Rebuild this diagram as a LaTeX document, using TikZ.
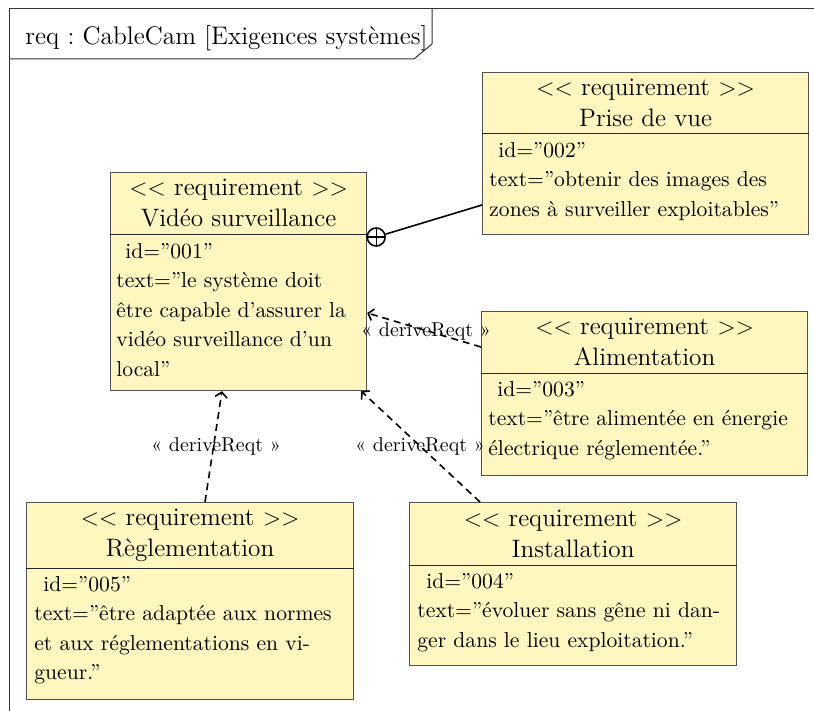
\documentclass[tikz,border=0pt]{standalone}
\usetikzlibrary{arrows.meta,calc}
\definecolor{reqfill}{RGB}{255,246,192}
\definecolor{reqline}{RGB}{80,80,80}
\frenchspacing
\begin{document}
\begin{tikzpicture}[x=0.5pt,y=-0.5pt,
  reqbox/.style={draw=reqline, fill=reqfill, line width=0.6pt, anchor=north west, inner sep=0pt},
  hdr/.style={align=center, inner sep=0pt, font=\fontsize{12.6}{15.5}\selectfont},
  body/.style={align=left, inner sep=0pt, anchor=north west, font=\fontsize{10.8}{14.75}\selectfont},
  lbl/.style={inner sep=0pt, font=\fontsize{10}{12}\selectfont},
  divider/.style={draw=black!85, line width=0.5pt},
  derive/.style={draw, line width=0.8pt, dash pattern=on 3.5pt off 2.5pt, -{Straight Barb[length=2.5pt,width=6pt]}},
  frameline/.style={draw=black!80, line width=0.5pt}
]
\useasboundingbox (0,0) rectangle (814,711);

% frame
\draw[frameline] (814,9) -- (9,9) -- (9,711);
\draw[frameline] (9,59) -- (414,59) -- (432,44) -- (432,9);
\node[inner sep=0pt, font=\fontsize{12.7}{15.5}\selectfont] (title) at (226.5,38) {req : CableCam [Exigences systèmes]};

% Vidéo surveillance
\node[reqbox, minimum width=128pt, minimum height=109pt] (vs) at (110,172) {};
\draw[divider] ($(vs.north west)+(0,63)$) -- ($(vs.north east)+(0,63)$);
\node[hdr] (vsh) at ($(vs.north)+(0,31)$) {$<<$ requirement $>>$\\Vidéo surveillance};
\node[body] (vsb) at ($(vs.north west)+(6,71)$) {\hspace{4.5pt}id=”001”\\text=”le système doit\\être capable d’assurer la\\vidéo surveillance d’un\\local”};

% Prise de vue
\node[reqbox, minimum width=163pt, minimum height=81pt] (pdv) at (482,72) {};
\draw[divider] ($(pdv.north west)+(0,62)$) -- ($(pdv.north east)+(0,62)$);
\node[hdr] (pdvh) at ($(pdv.north)+(0,31)$) {$<<$ requirement $>>$\\Prise de vue};
\node[body] (pdvb) at ($(pdv.north west)+(7,70)$) {\hspace{4.5pt}id=”002”\\text=”obtenir des images des\\zones à surveiller exploitables”};

% Alimentation
\node[reqbox, minimum width=163pt, minimum height=82pt] (ali) at (481,311) {};
\draw[divider] ($(ali.north west)+(0,62)$) -- ($(ali.north east)+(0,62)$);
\node[hdr] (alih) at ($(ali.north)+(0,31)$) {$<<$ requirement $>>$\\Alimentation};
\node[body] (alib) at ($(ali.north west)+(7,70)$) {\hspace{4.5pt}id=”003”\\text=”être alimentée en énergie\\électrique réglementée.”};

% Installation
\node[reqbox, minimum width=163.5pt, minimum height=81.5pt] (ins) at (409,502) {};
\draw[divider] ($(ins.north west)+(0,63)$) -- ($(ins.north east)+(0,63)$);
\node[hdr] (insh) at ($(ins.north)+(0,32)$) {$<<$ requirement $>>$\\Installation};
\node[body] (insb) at ($(ins.north west)+(8,71)$) {\hspace{4.5pt}id=”004”\\text=”évoluer sans gêne ni dan-\\ger dans le lieu exploitation.”};

% Règlementation
\node[reqbox, minimum width=163.5pt, minimum height=98.5pt] (reg) at (26,502) {};
\draw[divider] ($(reg.north west)+(0,66)$) -- ($(reg.north east)+(0,66)$);
\node[hdr] (regh) at ($(reg.north)+(0,33)$) {$<<$ requirement $>>$\\Règlementation};
\node[body] (regb) at ($(reg.north west)+(8,74)$) {\hspace{4.5pt}id=”005”\\text=”être adaptée aux normes\\et aux réglementations en vi-\\gueur.”};

% containment
\node[circle, draw, line width=0.8pt, minimum size=9pt, inner sep=0pt] (cont) at ($(vs.north east)+(9,65)$) {};
\draw[line width=0.6pt] (cont.north) -- (cont.south) (cont.west) -- (cont.east);
\draw[line width=0.8pt] (cont) -- ($(pdv.north west)+(0,133)$);

% deriveReqt
\draw[derive] ($(ali.north west)+(0,36)$) -- ($(vs.north east)+(0,141)$);
\draw[derive] ($(reg.north west)+(179,0)$) -- ($(vs.south west)+(112,0)$);
\draw[derive] ($(ins.north west)+(71,0)$) -- ($(vs.south east)+(-6,0)$);
\node[lbl] (l1) at (426,331) {« deriveReqt »};
\node[lbl] (l2) at (216,446) {« deriveReqt »};
\node[lbl] (l3) at (420,446) {« deriveReqt »};
\end{tikzpicture}
\end{document}
